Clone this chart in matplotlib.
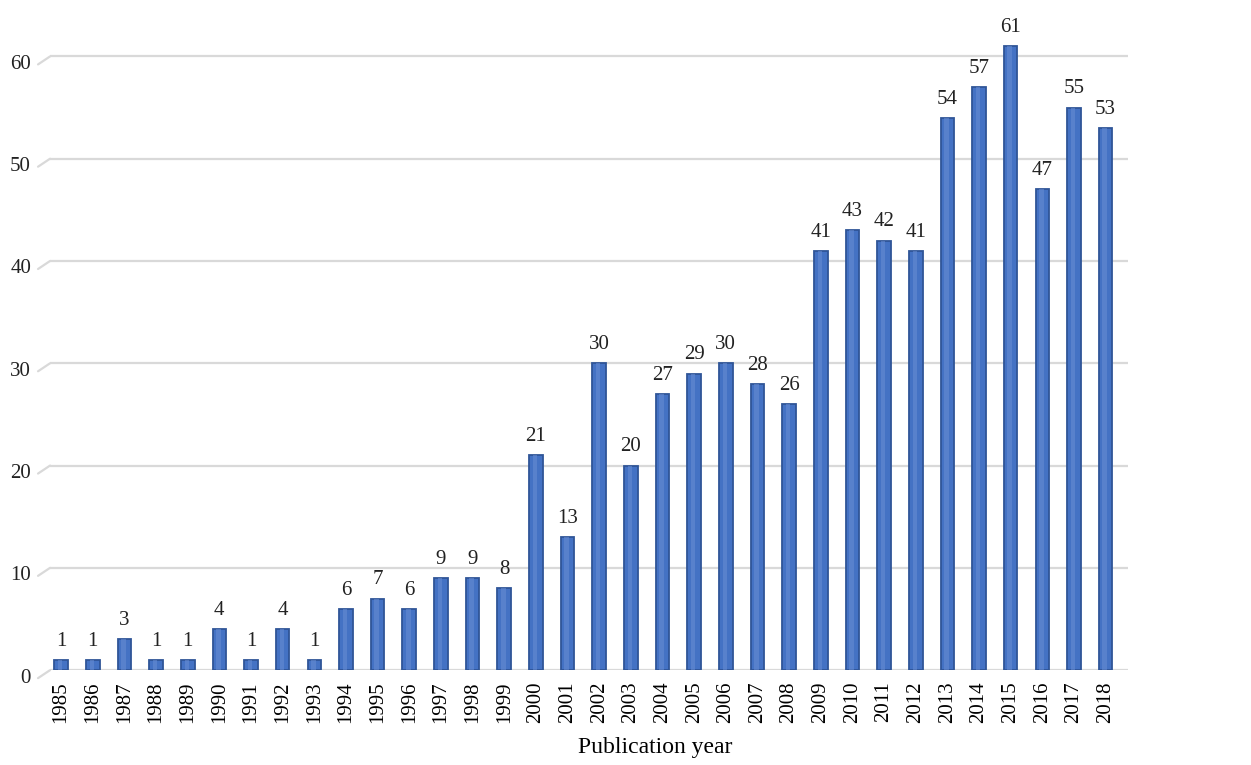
import matplotlib
matplotlib.use('Agg')
import matplotlib.pyplot as plt
import numpy as np

# data
years = [str(y) for y in range(1985, 2019)]
counts = [1, 1, 3, 1, 1, 4, 1, 4, 1, 6, 7, 6, 9, 9, 8, 21, 13, 30, 20, 27,
          29, 30, 28, 26, 41, 43, 42, 41, 54, 57, 61, 47, 55, 53]
yticks = [0, 10, 20, 30, 40, 50, 60]

plt.rcParams['font.family'] = ['Liberation Serif', 'DejaVu Serif']

fig = plt.figure(figsize=(12.51, 7.65), dpi=100)
ax = fig.add_axes([0.04, 0.124, 0.862, 0.829])

x = np.arange(len(years))
ax.bar(x, counts, width=0.43, color='#4472C4', edgecolor='#2F5597',
       linewidth=1.3, zorder=3)
# lighter strip to hint at the cylinder shading
ax.bar(x - 0.03, counts, width=0.14, color='#6a8fd4', linewidth=0,
       alpha=0.55, zorder=4)

# labels above bars
for xi, c in zip(x, counts):
    ax.text(xi, c + 0.9, str(c), ha='center', va='bottom', fontsize=15,
            color='#222222')

ax.set_xlim(-0.35, 33.72)
ax.set_ylim(0, 62)
ax.set_yticks(yticks)
ax.set_yticklabels([])
ax.yaxis.grid(True, color='#d9d9d9', linewidth=1.6, zorder=0)
ax.set_axisbelow(True)

# slanted stubs at the left end of each gridline + labels
trans = ax.get_yaxis_transform()
px = 1 / 1.389  # pixels -> points at dpi 100
for v in yticks:
    ax.annotate('', xy=(0, v), xycoords=trans,
                xytext=(-12 * px, -8 * px), textcoords='offset points',
                arrowprops=dict(arrowstyle='-', color='#d9d9d9', lw=1.6,
                                shrinkA=0, shrinkB=0))
    ax.annotate(str(v), xy=(0, v), xycoords=trans,
                xytext=(-19 * px, -8 * px), textcoords='offset points',
                ha='right', va='center', fontsize=15, color='#222222')

ax.set_xticks(x)
ax.set_xticklabels(years, rotation=90, fontsize=15)
ax.tick_params(axis='both', length=0)
ax.tick_params(axis='x', pad=8)

for s in ax.spines.values():
    s.set_visible(False)

ax.set_xlabel('Publication year', fontsize=17)
ax.xaxis.set_label_coords(0.561, -0.105)

fig.savefig('out.png', dpi=100)
